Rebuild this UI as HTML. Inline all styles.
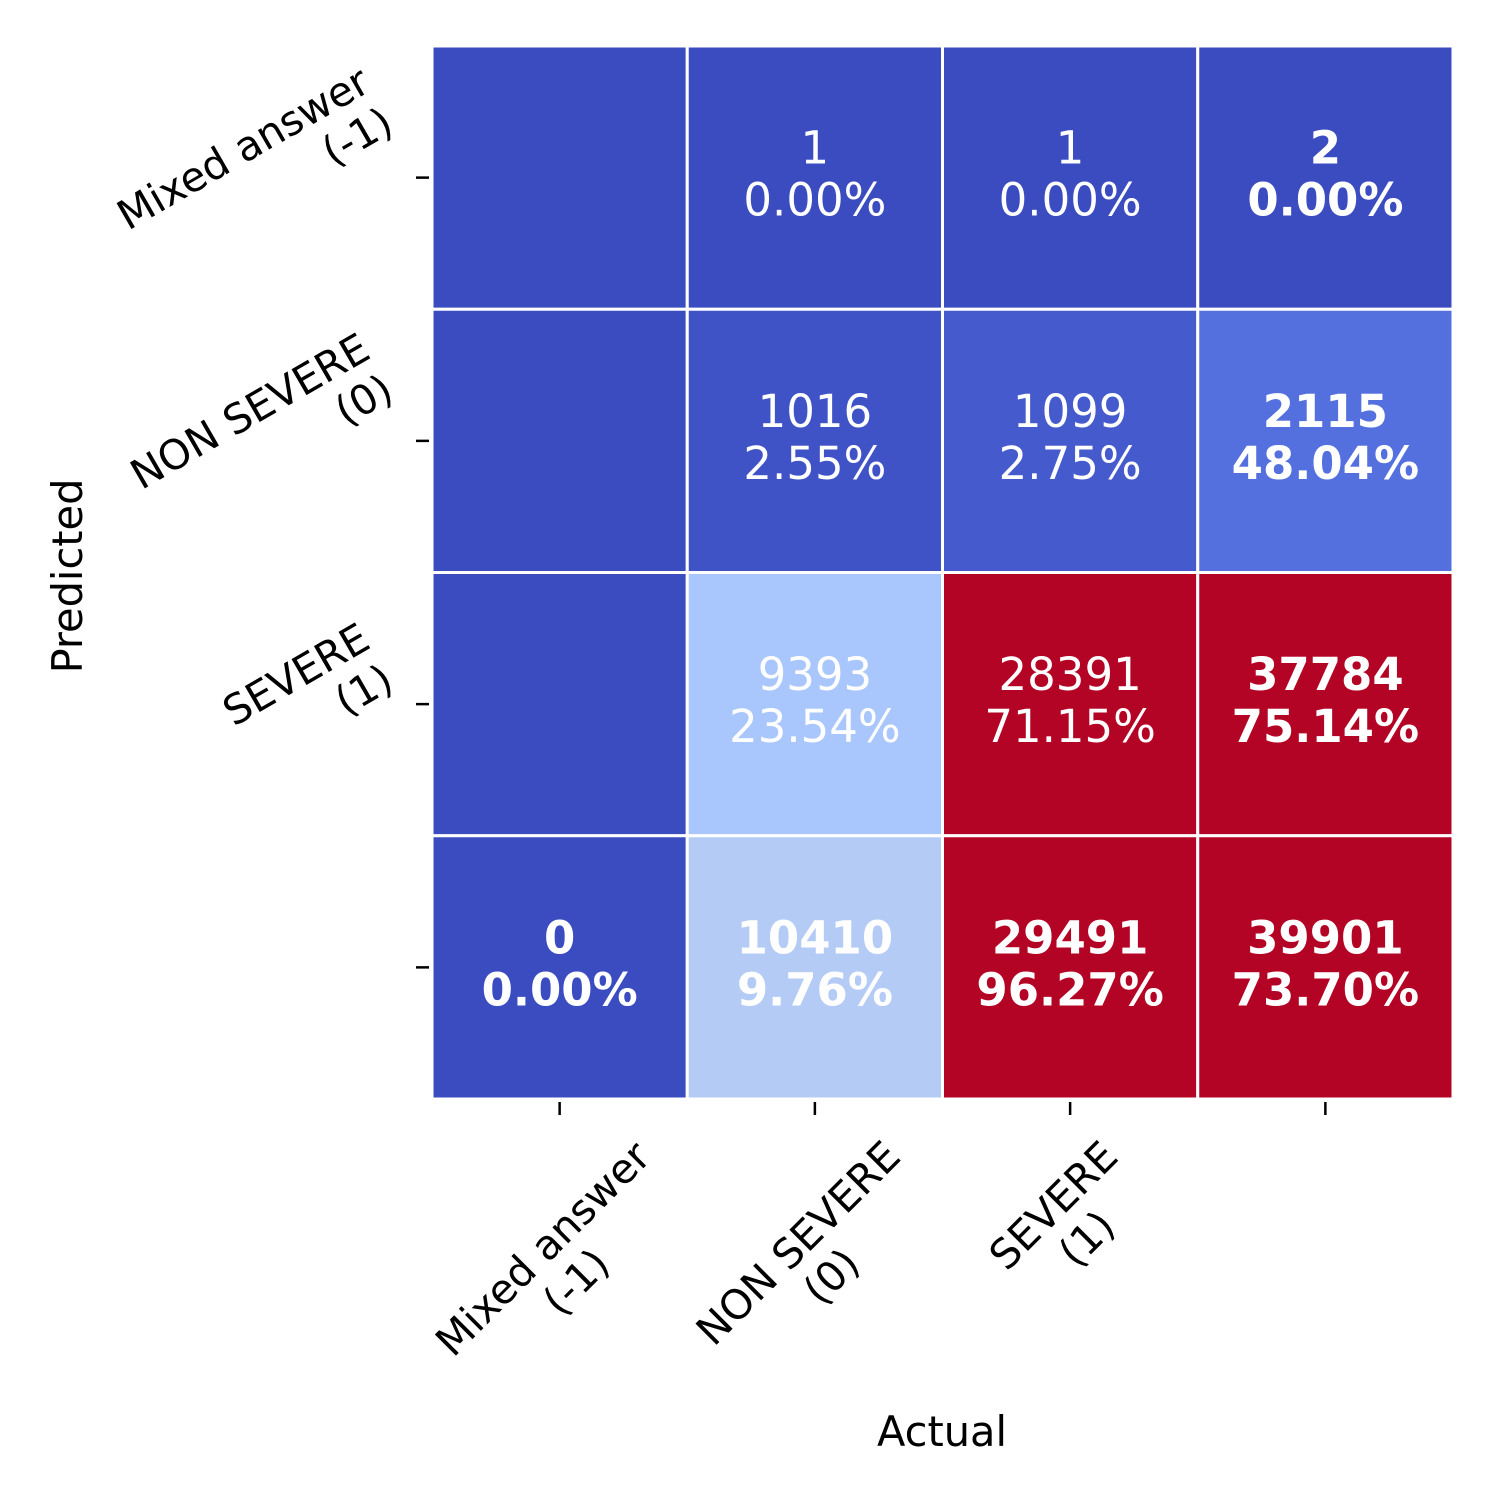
<!DOCTYPE html>
<html><head><meta charset="utf-8"><style>
html,body{margin:0;padding:0;background:#fff;}
svg{display:block;font-family:"DejaVu Sans","Liberation Sans",sans-serif;}
</style></head><body>
<svg id="chart" width="1500" height="1500" viewBox="0 0 1500 1500">
<g id="cells"></g>
<g id="ann"></g>
<g id="axes"></g>
<text x="942" y="1446" font-size="41.5" text-anchor="middle">Actual</text>
<text transform="translate(82,576) rotate(-90)" font-size="41.5" text-anchor="middle">Predicted</text>
</svg>
<script>
const xLabels = [["Mixed answer","(-1)"],["NON SEVERE","(0)"],["SEVERE","(1)"],[]];
const yLabels = [["Mixed answer","(-1)"],["NON SEVERE","(0)"],["SEVERE","(1)"],[]];
const counts = [
  [null,1,1,2],
  [null,1016,1099,2115],
  [null,9393,28391,37784],
  [0,10410,29491,39901]
];
const percents = [
  [null,"0.00%","0.00%","0.00%"],
  [null,"2.55%","2.75%","48.04%"],
  [null,"23.54%","71.15%","75.14%"],
  ["0.00%","9.76%","96.27%","73.70%"]
];
const boldCells = [
  [false,false,false,true],
  [false,false,false,true],
  [false,false,false,true],
  [true,true,true,true]
];
const heat = [
  [0,0,0,0],
  [0,0.02,0.04,0.1],
  [0,0.4,1,1],
  [0,0.42,1,1]
];
const stops=[[0,[59,76,192]],[0.1,[84,112,222]],[0.2,[111,146,243]],[0.3,[141,176,254]],[0.4,[170,199,253]],[0.5,[221,220,220]],[0.75,[244,154,123]],[1,[180,4,38]]];
function cmap(v){for(let i=1;i<stops.length;i++){if(v<=stops[i][0]){const a=stops[i-1],b=stops[i];const t=(v-a[0])/(b[0]-a[0]);const c=a[1].map((x,k)=>Math.round(x+(b[1][k]-x)*t));return `rgb(${c})`;}}return "rgb(180,4,38)";}
const X0=432,X1=1453,Y0=46,Y1=1099,n=4;
const cw=(X1-X0)/n,ch=(Y1-Y0)/n;
const xs=i=>X0+i*cw, ys=j=>Y0+j*ch;
const NS="http://www.w3.org/2000/svg";
function mk(tag,attrs,parent){const e=document.createElementNS(NS,tag);for(const k in attrs)e.setAttribute(k,attrs[k]);parent.appendChild(e);return e;}
const cells=document.getElementById('cells'),ann=document.getElementById('ann'),axes=document.getElementById('axes');
for(let r=0;r<n;r++)for(let c=0;c<n;c++){
  const rect=mk('rect',{x:xs(c),y:ys(r),width:cw,height:ch,fill:cmap(heat[r][c]),stroke:'#fff','stroke-width':3},cells);
  
  
  if(counts[r][c]!==null){
    const cx=xs(c)+cw/2,cy=ys(r)+ch/2;
    const t=mk('text',{x:cx,y:cy-14,'font-size':45,'text-anchor':'middle',fill:'#fff','font-weight':boldCells[r][c]?'bold':'normal'},ann);
    t.textContent=counts[r][c];
    
    
    const p=mk('text',{x:cx,y:cy+38,'font-size':45,'text-anchor':'middle',fill:'#fff','font-weight':boldCells[r][c]?'bold':'normal'},ann);
    p.textContent=percents[r][c];
    
    
  }
}
const svgEl=document.getElementById('chart');
function place(g,targetX,targetY,mode){
  const b=g.getBoundingClientRect(),s=svgEl.getBoundingClientRect();
  const bx=b.left-s.left,by=b.top-s.top;
  let dx,dy;
  if(mode==='x'){dx=targetX-(bx+b.width/2);dy=targetY-by;}
  else{dx=targetX-(bx+b.width);dy=targetY-(by+b.height/2);}
  const outer=mk('g',{transform:`translate(${dx},${dy})`},g.parentNode);
  outer.appendChild(g);
  return outer;
}
const FS=41;
for(let i=0;i<n;i++){
  const cx=xs(i)+cw/2;
  const tk=mk('line',{x1:cx,y1:Y1+3,x2:cx,y2:Y1+16,stroke:'#000','stroke-width':2.5},axes);
  
  
  if(xLabels[i].length){
    const g=mk('g',{transform:`rotate(-45)`},axes);
    
    
    xLabels[i].forEach((s,k)=>{const t=mk('text',{x:0,y:k*47,'font-size':FS,'text-anchor':'middle'},g);t.textContent=s;});
    place(g,cx,Y1+33,'x');
  }
  const cy=ys(i)+ch/2;
  const ty=mk('line',{x1:X0-3,y1:cy,x2:X0-16,y2:cy,stroke:'#000','stroke-width':2.5},axes);
  
  
  if(yLabels[i].length){
    const g=mk('g',{transform:`rotate(-30)`},axes);
    
    
    yLabels[i].forEach((s,k)=>{const t=mk('text',{x:0,y:k*47,'font-size':FS,'text-anchor':'end'},g);t.textContent=s;});
    place(g,401,cy-9,'y');
  }
}
</script>
</body></html>
